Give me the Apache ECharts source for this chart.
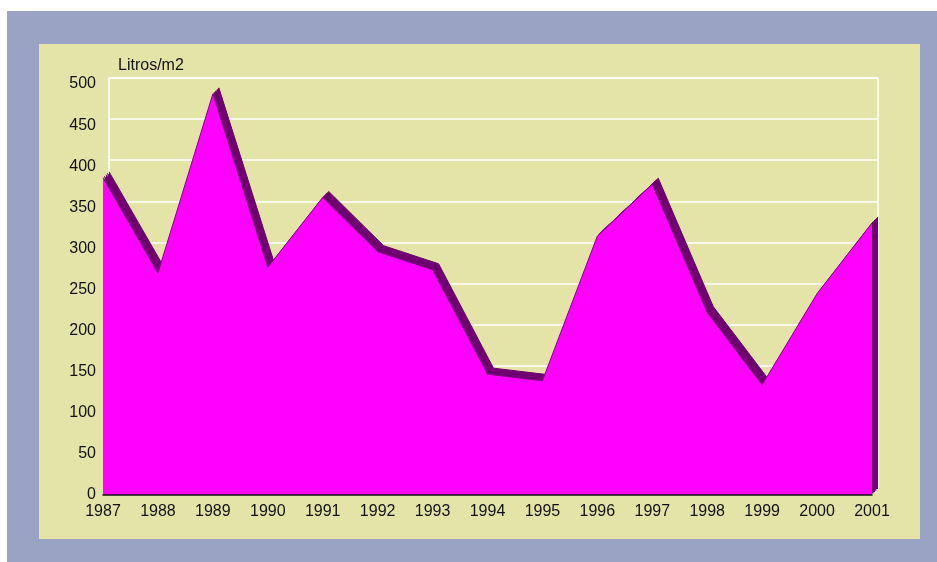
<!DOCTYPE html>
<html>
<head>
<meta charset="utf-8">
<script src="https://cdn.jsdelivr.net/npm/echarts@6/dist/echarts.min.js"></script>
<style>
  html, body { margin: 0; padding: 0; background: #fff; }
  #chart { width: 937px; height: 562px; }
</style>
</head>
<body>
<div id="chart"></div>
<script>
const years = ['1987', '1988', '1989', '1990', '1991', '1992', '1993', '1994',
  '1995', '1996', '1997', '1998', '1999', '2000', '2001'];
const rainfall = [386, 270, 488, 277, 362, 296, 274, 147, 139, 315, 378, 222, 134, 245, 331];
const yTicks = [0, 50, 100, 150, 200, 250, 300, 350, 400, 450, 500];

const chart = echarts.init(document.getElementById('chart'));
const font = 'Liberation Sans, Arial, sans-serif';
// fake 3d: the same area is drawn several times, shifted up-right, behind the front one
const depths = [1.5, 3, 4.5, 6];
const base = { left: 103, right: 65, top: 84, bottom: 67 };

const grids = [{ ...base, containLabel: false }];
const xAxes = [{
  type: 'category', gridIndex: 0, data: years, boundaryGap: false, z: 5,
  axisLine: { lineStyle: { color: '#111', width: 1.5 } },
  axisTick: { show: false },
  axisLabel: { color: '#111', fontSize: 16, fontFamily: font, margin: 9, interval: 0 },
  splitLine: { show: false }
}];
const yAxes = [{
  type: 'value', gridIndex: 0, min: 0, max: 500, interval: 50,
  name: 'Litros/m2', nameLocation: 'end', nameGap: 10,
  nameTextStyle: { color: '#111', fontSize: 16, fontFamily: font, align: 'left', padding: [0, 0, 0, 15] },
  axisLine: { show: false },
  axisTick: { show: false },
  axisLabel: { color: '#111', fontSize: 16, fontFamily: font, margin: 7,
    formatter: (v) => yTicks.includes(v) ? String(v) : '' },
  splitLine: { show: false }
}];
const series = [];

depths.forEach((d, i) => {
  const last = i === depths.length - 1;
  grids.push({
    left: base.left + d, right: base.right - d, top: base.top - d, bottom: base.bottom + d,
    show: last, borderColor: '#fff', borderWidth: 1.5, containLabel: false
  });
  xAxes.push({ type: 'category', gridIndex: i + 1, data: years, boundaryGap: false, show: false });
  yAxes.push({
    type: 'value', gridIndex: i + 1, min: 0, max: 500, interval: 50,
    axisLine: { show: false }, axisTick: { show: false }, axisLabel: { show: false },
    splitLine: { show: last, lineStyle: { color: '#fff', width: 1.5 } }
  });
  series.push({
    type: 'line', xAxisIndex: i + 1, yAxisIndex: i + 1, data: rainfall, symbol: 'none',
    lineStyle: { color: '#6F0070', width: 1 },
    areaStyle: { color: '#6F0070', opacity: 1 },
    z: 2, silent: true
  });
});

series.push({
  name: 'Litros/m2',
  type: 'line',
  xAxisIndex: 0,
  yAxisIndex: 0,
  data: rainfall,
  symbol: 'none',
  lineStyle: { color: '#7A0A7C', width: 1 },
  areaStyle: { color: '#FF00FF', opacity: 1 },
  z: 3
});

const option = {
  backgroundColor: '#fff',
  animation: false,
  graphic: [
    { type: 'rect', z: -10, shape: { x: 7, y: 11, width: 930, height: 551 }, style: { fill: '#9BA3C5' } },
    { type: 'rect', z: -9, shape: { x: 39, y: 44, width: 881, height: 495 }, style: { fill: '#E5E4A8' } }
  ],
  grid: grids,
  xAxis: xAxes,
  yAxis: yAxes,
  series: series
};
chart.setOption(option);
</script>
</body>
</html>
